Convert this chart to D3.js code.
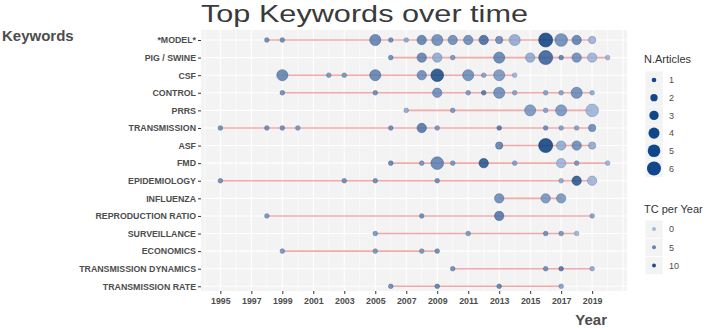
<!DOCTYPE html>
<html><head><meta charset="utf-8">
<script src="https://cdn.jsdelivr.net/npm/d3@7"></script>
<style>
body{margin:0;background:#fff;}
svg{display:block;font-family:"Liberation Sans",Arial,sans-serif;}
</style></head>
<body><svg id="chart" width="709" height="328"></svg>
<script>
const keywords = ["*MODEL*","PIG / SWINE","CSF","CONTROL","PRRS","TRANSMISSION","ASF","FMD","EPIDEMIOLOGY","INFLUENZA","REPRODUCTION RATIO","SURVEILLANCE","ECONOMICS","TRANSMISSION DYNAMICS","TRANSMISSION RATE"];
// per keyword: years, number of articles, total citations per year
const kwYears = [
  [1998,1999,2005,2006,2007,2008,2009,2010,2011,2012,2013,2014,2016,2017,2018,2019],
  [2006,2008,2009,2010,2013,2015,2016,2017,2018,2019,2020],
  [1999,2002,2003,2005,2008,2009,2011,2012,2013,2014],
  [1999,2005,2009,2011,2012,2013,2014,2016,2017,2018,2019],
  [2007,2010,2015,2016,2017,2019],
  [1995,1998,1999,2000,2006,2008,2009,2013,2016,2017,2018,2019],
  [2013,2016,2017,2018,2019],
  [2006,2008,2009,2010,2012,2014,2017,2018,2020],
  [1995,2003,2005,2009,2017,2018,2019],
  [2013,2016,2017],
  [1998,2008,2013,2019],
  [2005,2011,2016,2017,2018],
  [1999,2005,2008,2009],
  [2010,2016,2017,2019],
  [2006,2009,2013,2017]
];
const kwArticles = [
  [1,1,4,1,1,3,4,3,3,3,2,4,6,5,3,2],
  [1,3,3,1,4,3,6,1,3,3,1],
  [4,1,1,4,3,5,4,1,4,1],
  [1,1,3,1,1,4,1,1,1,4,1],
  [1,1,4,1,4,5],
  [1,1,1,1,1,3,1,1,1,1,1,2],
  [2,6,3,3,2],
  [1,1,5,1,3,1,3,1,1],
  [1,1,1,1,1,3,3],
  [3,3,3],
  [1,1,3,1],
  [1,1,1,1,1],
  [1,1,1,1],
  [1,1,1,1],
  [1,1,1,1]
];
const kwTC = [
  [5,5,6,5,2,6,5,5,5,8,5,2,12,5,6,1],
  [5,6,2,4,6,2,9,6,5,1,1],
  [6,4,4,6,5,11,5,3,4,1],
  [5,5,5,4,7,5,3,3,3,5,2],
  [2,4,4,3,4,1],
  [5,5,5,4,5,7,4,7,5,3,3,5],
  [6,12,2,5,2],
  [6,4,6,4,10,3,1,4,1],
  [5,5,5,5,2,10,1],
  [5,4,4],
  [4,5,7,3],
  [4,4,5,4,1],
  [4,4,4,5],
  [5,5,7,2],
  [5,6,6,3]
];
const yearTicks = [1995,1997,1999,2001,2003,2005,2007,2009,2011,2013,2015,2017,2019];
const sizeLegend = [1,2,3,4,5,6];
const tcLegend = [0,5,10];

const svg = d3.select("#chart");
const P = {left:201, right:627, top:30, bottom:291};

const x = d3.scaleLinear().domain([1993.75, 2021.25]).range([P.left, P.right]);
const y = d3.scalePoint().domain(keywords).range([40, 286.3]);
const r = d3.scaleSqrt().domain([1,6]).range([2.3,7]);
const col = d3.scaleLinear().domain([0,12]).range(["#a3b9dd","#083c7c"]);

// panel background
svg.append("rect").attr("x",P.left).attr("y",P.top).attr("width",P.right-P.left).attr("height",P.bottom-P.top).attr("fill","#f3f3f3");
// grid
const g = svg.append("g");
d3.range(1994, 2022).forEach(yr=>{
  const major = yr%2===1;
  g.append("line").attr("x1",x(yr)).attr("x2",x(yr)).attr("y1",P.top).attr("y2",P.bottom)
    .attr("stroke","#fff").attr("stroke-width",major?1.1:0.55);
});
keywords.forEach(k=>{
  g.append("line").attr("x1",P.left).attr("x2",P.right).attr("y1",y(k)).attr("y2",y(k))
    .attr("stroke","#fff").attr("stroke-width",1.1);
});

// segments
keywords.forEach((k,i)=>{
  const yrs = kwYears[i];
  svg.append("line").attr("x1",x(d3.min(yrs))).attr("x2",x(d3.max(yrs)))
    .attr("y1",y(k)).attr("y2",y(k)).attr("stroke","#ee9c9c").attr("stroke-width",1.6).attr("opacity",0.85);
});
// points
const pts = [];
keywords.forEach((k,i)=>kwYears[i].forEach((yr,j)=>pts.push({k, yr, n:kwArticles[i][j], tc:kwTC[i][j]})));
svg.append("g").selectAll("circle").data(pts).join("circle")
  .attr("cx",d=>x(d.yr)).attr("cy",d=>y(d.k)).attr("r",d=>r(d.n))
  .attr("fill",d=>col(d.tc)).attr("fill-opacity",0.85)
  .attr("stroke",d=>d3.color(col(d.tc)).darker(0.6)).attr("stroke-width",0.7).attr("stroke-opacity",0.8);

// axes
const xa = svg.append("g").attr("transform",`translate(0,${P.bottom})`)
  .call(d3.axisBottom(x).tickValues(yearTicks).tickFormat(d3.format("d")).tickSize(3).tickPadding(3.5));
const ya = svg.append("g").attr("transform",`translate(${P.left},0)`)
  .call(d3.axisLeft(y).tickSize(3).tickPadding(2));
[xa,ya].forEach(a=>{
  a.select(".domain").remove();
  a.selectAll(".tick line").attr("stroke","#333");
  a.selectAll(".tick text").attr("fill","#4d4d4d").attr("font-weight","bold").attr("font-size","8.8px")
    .attr("font-family","'Liberation Sans',Arial,sans-serif");
});

// titles
svg.append("text").attr("x",201).attr("y",21.5).attr("font-size","24px").attr("fill","#3a3a3a")
  .attr("textLength",327).attr("lengthAdjust","spacingAndGlyphs").text("Top Keywords over time");
svg.append("text").attr("x",2).attr("y",41).attr("font-size","15px").attr("font-weight","bold").attr("fill","#4d4d4d").text("Keywords");
svg.append("text").attr("x",607).attr("y",325).attr("text-anchor","end").attr("font-size","15px").attr("font-weight","bold").attr("fill","#4d4d4d").text("Year");

// legend: N.Articles
const L1 = svg.append("g");
L1.append("text").attr("x",644).attr("y",63).attr("font-size","11px").attr("fill","#333").text("N.Articles");
sizeLegend.forEach((v,i)=>{
  const cy = 80 + i*17.7;
  L1.append("rect").attr("x",645.5).attr("y",cy-8.6).attr("width",17.3).attr("height",17.3).attr("fill","#f3f3f3");
  L1.append("circle").attr("cx",654).attr("cy",cy).attr("r",r(v)).attr("fill","#10478a");
  L1.append("text").attr("x",669).attr("y",cy+3.3).attr("font-size","9px").attr("fill","#4d4d4d").text(v);
});
// legend: TC per Year
const L2 = svg.append("g");
L2.append("text").attr("x",644).attr("y",213).attr("font-size","11px").attr("fill","#333").text("TC per Year");
tcLegend.forEach((v,i)=>{
  const cy = 229 + i*18.3;
  L2.append("rect").attr("x",645.5).attr("y",cy-8.6).attr("width",17.3).attr("height",17.3).attr("fill","#f3f3f3");
  L2.append("circle").attr("cx",654).attr("cy",cy).attr("r",2).attr("fill",col(v));
  L2.append("text").attr("x",669).attr("y",cy+3.3).attr("font-size","9px").attr("fill","#4d4d4d").text(v);
});
</script></body></html>
